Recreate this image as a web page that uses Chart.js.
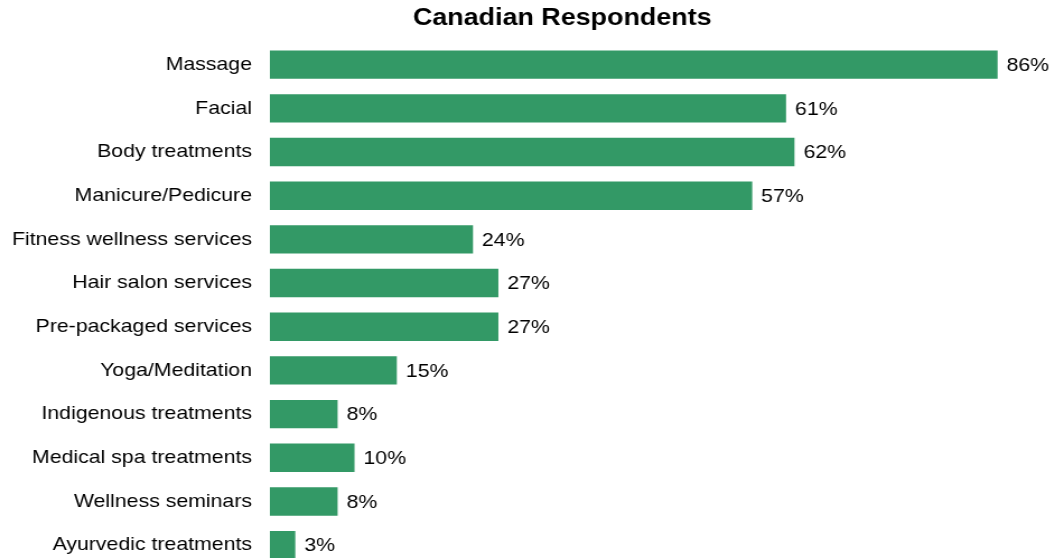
<!DOCTYPE html>
<html>
<head>
<meta charset="utf-8">
<script src="https://cdn.jsdelivr.net/npm/chart.js@4/dist/chart.umd.min.js"></script>
<style>
  html, body { margin: 0; padding: 0; background: #fff; overflow: hidden; }
  #wrap { width: 1055px; height: 558px; overflow: hidden; position: relative; }
  #box { position: absolute; left: 0; top: 0; transform: scaleX(1.12); transform-origin: 0 0; }
  #chart { display: block; }
</style>
</head>
<body>
<div id="wrap"><div id="box"><canvas id="chart" width="1012" height="567"></canvas></div></div>
<script>
const categories = [
  'Massage', 'Facial', 'Body treatments', 'Manicure/Pedicure',
  'Fitness wellness services', 'Hair salon services', 'Pre-packaged services',
  'Yoga/Meditation', 'Indigenous treatments', 'Medical spa treatments',
  'Wellness seminars', 'Ayurvedic treatments'
];
const shares = [86, 61, 62, 57, 24, 27, 27, 15, 8, 10, 8, 3];

const FONT = '"Liberation Sans", Arial, sans-serif';

// writes the percentage just past the end of each bar
const valueLabels = {
  id: 'valueLabels',
  afterDatasetsDraw(chart) {
    const ctx = chart.ctx;
    const meta = chart.getDatasetMeta(0);
    ctx.save();
    ctx.font = '19px ' + FONT;
    ctx.fillStyle = '#000';
    ctx.textAlign = 'left';
    ctx.textBaseline = 'middle';
    meta.data.forEach((bar, i) => {
      ctx.fillText(shares[i] + '%', bar.x + 8, bar.y + 1);
    });
    ctx.restore();
  }
};

new Chart(document.getElementById('chart'), {
  type: 'bar',
  data: {
    labels: categories,
    datasets: [{
      data: shares,
      backgroundColor: '#339966',
      borderWidth: 0,
      categoryPercentage: 1,
      barPercentage: 0.65
    }]
  },
  options: {
    indexAxis: 'y',
    responsive: false,
    animation: false,
    layout: { padding: { left: 0, right: 8, top: 0, bottom: 0 } },
    plugins: {
      legend: { display: false },
      tooltip: { enabled: false },
      title: {
        display: true,
        text: 'Canadian Respondents',
        color: '#000',
        font: { family: FONT, size: 24, weight: 'bold', lineHeight: 1.2 },
        padding: { top: 4, bottom: 10 }
      }
    },
    scales: {
      x: {
        display: false,
        min: 0,
        max: 101
      },
      y: {
        grid: { display: false, drawTicks: false },
        border: { display: false },
        ticks: {
          color: '#000',
          font: { family: FONT, size: 19 },
          padding: 16
        },
        afterFit(scale) {
          // fixed label column; rows run the full height of the plot
          scale.width = 241;
          scale.paddingTop = 0;
          scale.paddingBottom = 0;
        }
      }
    }
  },
  plugins: [valueLabels]
});
</script>
</body>
</html>
